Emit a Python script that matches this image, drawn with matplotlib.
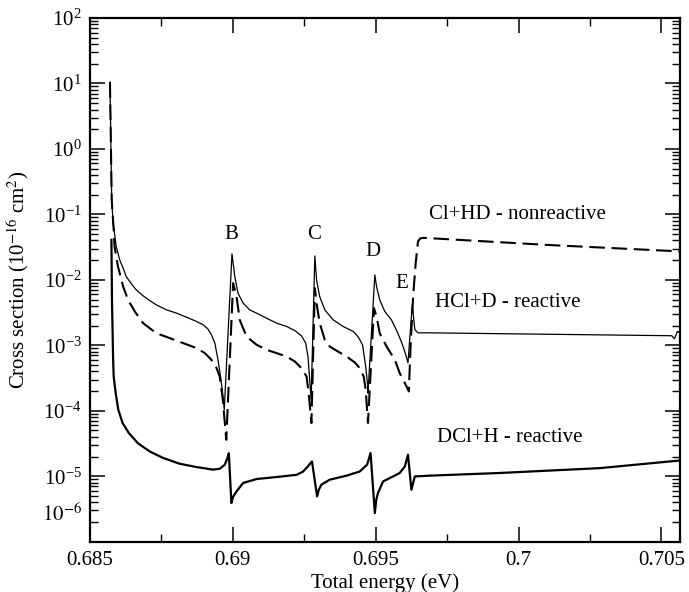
import matplotlib
matplotlib.use("Agg")
import matplotlib.pyplot as plt
from matplotlib.ticker import FixedLocator, LogLocator, NullFormatter

plt.rcParams['font.family'] = ['Liberation Serif', 'DejaVu Serif']
plt.rcParams['mathtext.fontset'] = 'stix'

# HCl + D reactive (thin solid)
energy_hcl = [0.68570, 0.68576, 0.68581, 0.68592, 0.68604, 0.68616, 0.68627, 0.68645,
              0.68662, 0.68686, 0.68709, 0.68732, 0.68768, 0.68803, 0.68838, 0.68873,
              0.68896, 0.68913, 0.68925, 0.68937, 0.68948, 0.68957, 0.68963, 0.68970,
              0.68997, 0.69007, 0.69018, 0.69036, 0.69059, 0.69083, 0.69118, 0.69153,
              0.69188, 0.69217, 0.69240, 0.69255, 0.69263, 0.69269, 0.69274,
              0.69287, 0.69293, 0.69304, 0.69322, 0.69351, 0.69386, 0.69421, 0.69438,
              0.69454, 0.69465, 0.69471, 0.69473,
              0.69497, 0.69503, 0.69514, 0.69532, 0.69555, 0.69574, 0.69590, 0.69602,
              0.69613, 0.69628, 0.69637, 0.69648, 0.69689, 0.70536, 0.70546, 0.70556,
              0.70565]
sigma_hcl = [10.5, 0.166, 0.0734, 0.0322, 0.0202, 0.0151, 0.0112, 0.00869,
             0.00703, 0.00570, 0.00483, 0.00415, 0.00348, 0.0031, 0.00269, 0.00231,
             0.00206, 0.00177, 0.00145, 0.00108, 0.000601, 0.000334, 0.00021, 0.000104,
             0.0249, 0.0112, 0.00626, 0.00441, 0.00348, 0.0031, 0.0026, 0.00218,
             0.00194, 0.00168, 0.0014, 0.00108, 0.000675, 0.000297, 0.000147,
             0.0232, 0.01, 0.00556, 0.00348, 0.00245, 0.00194, 0.00163, 0.00136,
             0.00102, 0.000474, 0.000265, 0.000186,
             0.0119, 0.00791, 0.00495, 0.00328, 0.00245, 0.00166, 0.00113, 0.000796,
             0.00054, 0.00415, 0.00173, 0.00155, 0.00155, 0.0014, 0.00126, 0.00163,
             0.00155]

# Cl + HD nonreactive (dashed)
energy_clhd = [0.68570, 0.68576, 0.68583, 0.68586, 0.68598, 0.68616, 0.68633, 0.68657,
               0.68686, 0.68732, 0.68779, 0.68826, 0.68873, 0.68902, 0.68925, 0.68943,
               0.68954, 0.68965, 0.68977,
               0.69001, 0.69013, 0.69024, 0.69048, 0.69083, 0.69118, 0.69153, 0.69188,
               0.69217, 0.69240, 0.69258, 0.69266, 0.69275,
               0.69287, 0.69293, 0.69304, 0.69322, 0.69339, 0.69368, 0.69398, 0.69427,
               0.69444, 0.69458, 0.69465, 0.69473,
               0.69494, 0.69503, 0.69514, 0.69538, 0.69567, 0.69584, 0.69608, 0.69616,
               0.69622, 0.69631, 0.69640, 0.69648, 0.69656, 0.69668, 0.70098, 0.70565]
sigma_clhd = [10.5, 0.166, 0.058, 0.0322, 0.0160, 0.00791, 0.00495, 0.00328,
              0.00218, 0.00153, 0.00129, 0.00108, 0.000906, 0.00076, 0.000601, 0.000449,
              0.000334, 0.000147, 3.6e-5,
              0.0089, 0.00556, 0.00245, 0.00136, 0.00102, 0.000854, 0.00076, 0.000675,
              0.000566, 0.000449, 0.000334, 0.000175, 6.5e-5,
              0.00747, 0.00441, 0.00218, 0.00121, 0.00096, 0.000803, 0.000675, 0.000546,
              0.000449, 0.000334, 0.00021, 6.5e-5,
              0.0037, 0.00275, 0.00153, 0.00096, 0.000601, 0.000377, 0.000235, 0.000197,
              0.00096, 0.00556, 0.018, 0.0385, 0.0430, 0.0438, 0.0342, 0.0272]

# DCl + H reactive (thick solid)
energy_dcl = [0.68575, 0.68577, 0.68581, 0.68583, 0.68590, 0.68599, 0.68614, 0.68636,
              0.68667, 0.68709, 0.68756, 0.68814, 0.68873, 0.68931, 0.68954, 0.68972,
              0.68981, 0.68986, 0.68995, 0.69001, 0.69013, 0.69036, 0.69083, 0.69153,
              0.69223, 0.69245, 0.69262, 0.69273, 0.69277, 0.69295, 0.69301, 0.69310,
              0.69339, 0.69398, 0.69444, 0.69470, 0.69482, 0.69497, 0.69502, 0.69508,
              0.69526, 0.69561, 0.69584, 0.69602, 0.69613, 0.69625, 0.69637, 0.69689,
              0.69934, 0.70285, 0.70565]
sigma_dcl = [0.0408, 0.00495, 0.000601, 0.000334, 0.000186, 0.000104, 6.5e-5, 4.57e-5,
             3.21e-5, 2.39e-5, 1.90e-5, 1.55e-5, 1.38e-5, 1.26e-5, 1.3e-5, 1.5e-5,
             1.9e-5, 2.24e-5, 3.9e-6, 4.86e-6, 5.86e-6, 7.88e-6, 9.06e-6, 9.72e-6,
             1.05e-5, 1.17e-5, 1.40e-5, 1.61e-5, 1.68e-5, 4.92e-6, 6.22e-6, 7.42e-6,
             8.85e-6, 1.02e-5, 1.18e-5, 1.5e-5, 2.26e-5, 2.74e-6, 4.38e-6, 5.54e-6,
             8.34e-6, 9.93e-6, 1.12e-5, 1.41e-5, 2.13e-5, 6.22e-6, 9.93e-6, 1.02e-5,
             1.12e-5, 1.33e-5, 1.74e-5]

x_ticks = [0.685, 0.69, 0.695, 0.7, 0.705]
x_tick_labels = ["0.685", "0.69", "0.695", "0.7", "0.705"]
x_minor = [0.6875, 0.6925, 0.6975, 0.7025]
y_ticks = [1e-5, 1e-4, 1e-3, 1e-2, 1e-1, 1e0, 1e1, 1e2]

peak_labels = ["B", "C", "D", "E"]
peak_x = [0.68995, 0.69283, 0.69490, 0.69590]
peak_y = [0.0486, 0.0486, 0.0270, 0.00869]

curve_labels = ["Cl+HD - nonreactive", "HCl+D - reactive", "DCl+H - reactive"]
curve_label_x = [0.69686, 0.69707, 0.69713]
curve_label_y = [0.0982, 0.00446, 3.87e-5]

fig = plt.figure(figsize=(6.89, 5.92), dpi=100)
ax = fig.add_axes([0.1306, 0.085, 0.8563, 0.8846])

ax.plot(energy_hcl, sigma_hcl, color='black', lw=0.9)
ax.plot(energy_clhd, sigma_clhd, color='black', lw=1.5, dashes=(7.5, 3.2))
ax.plot(energy_dcl, sigma_dcl, color='black', lw=1.6)

ax.set_yscale('log')
ax.set_ylim(1e-6, 1e2)
ax.set_xlim(0.685, 0.70565)

ax.xaxis.set_major_locator(FixedLocator(x_ticks))
ax.set_xticklabels(x_tick_labels)
ax.xaxis.set_minor_locator(FixedLocator(x_minor))
ax.yaxis.set_major_locator(FixedLocator(y_ticks))
ax.yaxis.set_minor_locator(LogLocator(base=10, subs=range(2, 10), numticks=20))
ax.yaxis.set_minor_formatter(NullFormatter())

ax.tick_params(which='both', direction='in', top=True, right=True, labelsize=15)
ax.tick_params(which='major', length=11, width=1.1)
ax.tick_params(which='minor', length=5.5, width=1.0)
ax.tick_params(axis='x', pad=7)
ax.tick_params(axis='y', pad=6)
for s in ax.spines.values():
    s.set_linewidth(1.6)

# odd label placed between the lowest ticks, as in the original
ax.annotate("$10^{-6}$", xy=(0, 2.6e-6), xycoords=('axes fraction', 'data'),
            xytext=(-6, 0), textcoords='offset points', ha='right', va='center',
            fontsize=15)

for lab, px, py in zip(peak_labels, peak_x, peak_y):
    ax.text(px, py, lab, fontsize=15, ha='center', va='center')
for lab, px, py in zip(curve_labels, curve_label_x, curve_label_y):
    ax.text(px, py, lab, fontsize=15, ha='left', va='center')

ax.set_xlabel("Total energy (eV)", fontsize=15)
ax.xaxis.set_label_coords(0.5, -0.061)
ax.set_ylabel("Cross section (10$^{-16}$ cm$^2$)", fontsize=15)
ax.yaxis.set_label_coords(-0.1, 0.5)

fig.savefig("out.png", dpi=100)
